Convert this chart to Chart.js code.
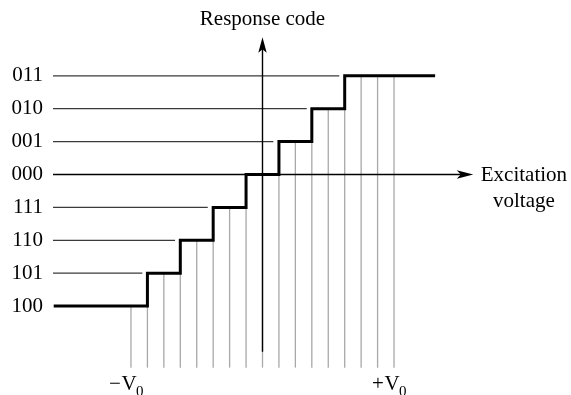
<!DOCTYPE html>
<html><head><meta charset="utf-8">
<style>html,body{margin:0;padding:0;background:#fff}#wrap{width:571px;height:395px}</style>
<script src="https://cdn.jsdelivr.net/npm/chart.js@4.4.0/dist/chart.umd.min.js"></script>
</head><body><div id="wrap"><canvas id="c" width="571" height="395"></canvas></div>
<script>
// ---- data ----
const codeLabels = ['100','101','110','111','000','001','010','011'];
const codeValues = [-4,-3,-2,-1,0,1,2,3];
const stairX = [-12.7,-7,-7,-5,-5,-3,-3,-1,-1,1,1,3,3,5,5,10.5];
const stairY = [-4,-4,-3,-3,-2,-2,-1,-1,0,0,1,1,2,2,3,3];
const gridX   = [-8,-7,-6,-5,-4,-3,-2,-1,0,1,2,3,4,5,6,7,8];
const gridTop = [-4,-4,-3,-3,-2,-2,-1,-1,0,0,1,1,2,2,3,3,3];
const gridBottom = -5.87;
const levelCodes = [-3,-2,-1,1,2,3];
const levelEnds  = [-7.31,-5.32,-3.33,0.66,2.69,4.67];
const lineStart = -12.75;
const xAxisTip = 12.82;
const yAxisBottom = -5.39;
const yAxisTop = 4.17;
const voltLabels = [{v:-8, sign:'\u2212'}, {v:8, sign:'+'}];
const yTitle = 'Response code';
const xTitle = ['Excitation','voltage'];
const xTitlePos = 15.9;

// ---- datasets ----
const ds = [];
gridX.forEach((gx,i)=>{
  ds.push({data:[{x:gx,y:gridBottom},{x:gx,y:gridTop[i]}], borderColor:'#a8a8a8', borderWidth:1.3, order:4});
});
levelCodes.forEach((c,i)=>{
  ds.push({data:[{x:lineStart,y:c},{x:levelEnds[i],y:c}], borderColor:'#3a3a3a', borderWidth:1.2, order:3});
});
ds.push({data:[{x:lineStart,y:0},{x:xAxisTip-0.5,y:0}], borderColor:'#000', borderWidth:1.4, order:2});
ds.push({data:[{x:0,y:yAxisBottom},{x:0,y:yAxisTop-0.3}], borderColor:'#000', borderWidth:1.4, order:2});
ds.push({data:stairX.map((x,i)=>({x:x,y:stairY[i]})), borderColor:'#000', borderWidth:3, order:0, borderJoinStyle:'miter'});
ds.forEach(d=>{d.showLine=true;d.pointRadius=0;d.pointHoverRadius=0;d.tension=0;d.fill=false;if(!d.borderJoinStyle)d.borderCapStyle='butt';});

const SERIF = '"Liberation Serif","Times New Roman",serif';

const deco = {
  id:'deco',
  afterDraw(chart){
    const ctx = chart.ctx, xs = chart.scales.x, ys = chart.scales.y;
    ctx.save();
    ctx.fillStyle = '#000';
    // up arrow
    let ax = xs.getPixelForValue(0), at = ys.getPixelForValue(yAxisTop);
    ctx.beginPath();
    ctx.moveTo(ax, at); ctx.lineTo(ax+4.2, at+15.5); ctx.lineTo(ax, at+12); ctx.lineTo(ax-4.2, at+15.5); ctx.closePath(); ctx.fill();
    // right arrow
    let rx = xs.getPixelForValue(xAxisTip), ry = ys.getPixelForValue(0);
    ctx.beginPath();
    ctx.moveTo(rx, ry); ctx.lineTo(rx-16.5, ry-4.2); ctx.lineTo(rx-12.5, ry); ctx.lineTo(rx-16.5, ry+4.2); ctx.closePath(); ctx.fill();
    // texts
    ctx.font = '21px '+SERIF;
    ctx.textBaseline = 'alphabetic';
    ctx.textAlign = 'center';
    ctx.fillText(yTitle, ax, at-12.3);
    const tx = xs.getPixelForValue(xTitlePos);
    ctx.fillText(xTitle[0], tx, ry+6.5);
    ctx.fillText(xTitle[1], tx, ry+32.5);
    // volt labels
    voltLabels.forEach(l=>{
      const px = xs.getPixelForValue(l.v) - 2;
      const base = 390;
      ctx.font = '21px '+SERIF;
      ctx.textAlign = 'center';
      ctx.fillText('V', px, base);
      const vw = ctx.measureText('V').width;
      ctx.textAlign = 'right';
      ctx.fillText(l.sign, px - vw/2 - 0.5, base);
      ctx.font = '15px '+SERIF;
      ctx.textAlign = 'left';
      ctx.fillText('0', px + vw/2 - 0.5, base+6);
    });
    ctx.restore();
  }
};

new Chart(document.getElementById('c'), {
  type:'scatter',
  data:{datasets:ds},
  options:{
    responsive:false, animation:false, devicePixelRatio:1,
    layout:{padding:0},
    plugins:{legend:{display:false}, tooltip:{enabled:false}, title:{display:false}},
    events:[],
    scales:{
      x:{type:'linear', min:-12.743, max:18.765, display:false},
      y:{type:'linear', min:-6.702, max:5.304, position:'left',
        afterFit(s){ s.width = 53; s.paddingTop = 0; s.paddingBottom = 0; },
        afterBuildTicks(s){ s.ticks = codeValues.map(v=>({value:v})); },
        ticks:{autoSkip:false, padding:10, color:'#000', font:{family:SERIF, size:21},
          callback:(v)=>{const i = codeValues.indexOf(v); return i>=0?codeLabels[i]:'';}},
        grid:{display:false, drawTicks:false},
        border:{display:false}
      }
    }
  },
  plugins:[deco]
});
</script></body></html>
